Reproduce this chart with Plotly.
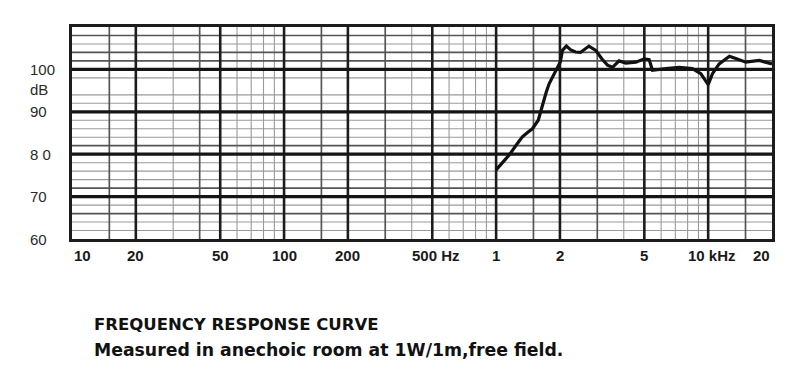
import math
import plotly.graph_objects as go

# ---- data ----
freq_hz = [1000, 1080, 1152, 1250, 1330, 1420, 1483, 1580, 1654, 1720, 1778, 1870,
           1950, 2010, 2055, 2145, 2250, 2370, 2500, 2620, 2740, 2950, 3150, 3350,
           3540, 3800, 4090, 4560, 5000, 5270, 5460, 6320, 7300, 8420, 9230, 10000,
           10480, 11270, 12600, 13600, 15060, 17400, 19400, 20000]
spl_db = [76.3, 78.2, 79.8, 82.3, 84.1, 85.3, 86.0, 88.0, 91.9, 94.5, 96.6, 98.8,
          100.2, 101.8, 104.5, 105.5, 104.6, 104.1, 104.0, 104.8, 105.5, 104.5, 102.5, 101.0,
          100.5, 102.0, 101.5, 101.7, 102.5, 102.3, 99.8, 100.2, 100.5, 100.2, 99.0, 96.4,
          99.0, 101.3, 103.1, 102.5, 101.7, 102.1, 101.5, 101.3]

x_grid_major = [20, 50, 100, 200, 500, 1000, 2000, 5000, 10000]
x_grid_medium = [15, 40, 150, 300, 1500, 3000, 15000]
x_grid_minor = [30, 60, 70, 80, 90, 400, 600, 700, 800, 900, 4000, 6000, 7000, 8000, 9000]
y_grid_major = [70, 80, 90, 100]
y_grid_medium = [66, 72, 82, 102, 104, 108]
y_grid_minor = [62, 64, 68, 74, 76, 78, 84, 86, 88, 92, 94, 98, 106]

x_tick_vals = [10, 20, 50, 100, 200, 500, 1000, 2000, 5000, 10000, 20000]
x_tick_text = ["10", "20", "50", "100", "200", "500 Hz", "1", "2", "5", "10 kHz", "20"]
y_label_vals = [100, 95.3, 90, 80, 70, 60]
y_label_text = ["100", "dB", "90", "8 0", "70", "60"]

title_lines = ["FREQUENCY RESPONSE CURVE",
               "Measured in anechoic room at 1W/1m,free field."]
title_sizes = [16.5, 17.3]

X_MIN, X_MAX = 10, 20000
Y_MIN, Y_MAX = 60, 110

fig = go.Figure()


def vlines(vals):
    xs, ys = [], []
    for v in vals:
        xs += [v, v, None]
        ys += [Y_MIN, Y_MAX, None]
    return xs, ys


def hlines(vals):
    xs, ys = [], []
    for v in vals:
        xs += [X_MIN, X_MAX, None]
        ys += [v, v, None]
    return xs, ys


for fn, vals, w, c in [
    (vlines, x_grid_minor, 1.1, "#9a9a9a"),
    (hlines, y_grid_minor, 1.1, "#9a9a9a"),
    (vlines, x_grid_medium, 1.7, "#555555"),
    (hlines, y_grid_medium, 1.7, "#555555"),
    (vlines, x_grid_major, 2.6, "#1c1c1c"),
    (hlines, y_grid_major, 3.2, "#151515"),
]:
    xs, ys = fn(vals)
    fig.add_trace(go.Scatter(x=xs, y=ys, mode="lines",
                             line=dict(color=c, width=w),
                             hoverinfo="skip", showlegend=False))

fig.add_trace(go.Scatter(x=freq_hz, y=spl_db, mode="lines",
                         line=dict(color="#111111", width=3.2),
                         showlegend=False))

PLOT_L, PLOT_R, PLOT_T, PLOT_B = 72, 772, 27, 239
W, H = 809, 373

annotations = []
for v, t in zip(x_tick_vals, x_tick_text):
    anchor = "center"
    xshift = 0
    if v == X_MIN:
        anchor = "left"
    elif v == X_MAX:
        anchor = "right"
    elif t.endswith("Hz"):
        xshift = 4
    annotations.append(dict(x=math.log10(v), xref="x", y=0, yref="paper",
                            yanchor="middle", yshift=-16, xanchor=anchor, xshift=xshift,
                            text=t, showarrow=False,
                            font=dict(family="Liberation Sans", size=15, color="#1a1a1a",
                                      weight="bold")))

for v, t in zip(y_label_vals, y_label_text):
    annotations.append(dict(x=(28 - PLOT_L) / (PLOT_R - PLOT_L), xref="paper", xanchor="left",
                            y=v, yref="y", yanchor="middle", text=t, showarrow=False,
                            font=dict(family="Liberation Sans", size=15, color="#2a2a2a")))

for t, py, fs in zip(title_lines, [324, 350], title_sizes):
    annotations.append(dict(x=(92 - PLOT_L) / (PLOT_R - PLOT_L), xref="paper", xanchor="left",
                            y=(PLOT_B - py) / (PLOT_B - PLOT_T), yref="paper", yanchor="middle",
                            text=t, showarrow=False,
                            font=dict(family="DejaVu Sans", size=fs, color="#111111",
                                      weight="bold")))

fig.update_layout(
    width=W, height=H,
    margin=dict(l=PLOT_L, r=W - PLOT_R, t=PLOT_T, b=H - PLOT_B),
    paper_bgcolor="white", plot_bgcolor="white",
    xaxis=dict(type="log", range=[math.log10(X_MIN), math.log10(X_MAX)],
               showgrid=False, zeroline=False, showticklabels=False, ticks="",
               showline=True, linecolor="#1c1c1c", linewidth=2.5, mirror=True),
    yaxis=dict(range=[Y_MIN, Y_MAX], showgrid=False, zeroline=False,
               showticklabels=False, ticks="",
               showline=True, linecolor="#1c1c1c", linewidth=2.5, mirror=True),
    annotations=annotations,
)

fig.write_html("out.html")
